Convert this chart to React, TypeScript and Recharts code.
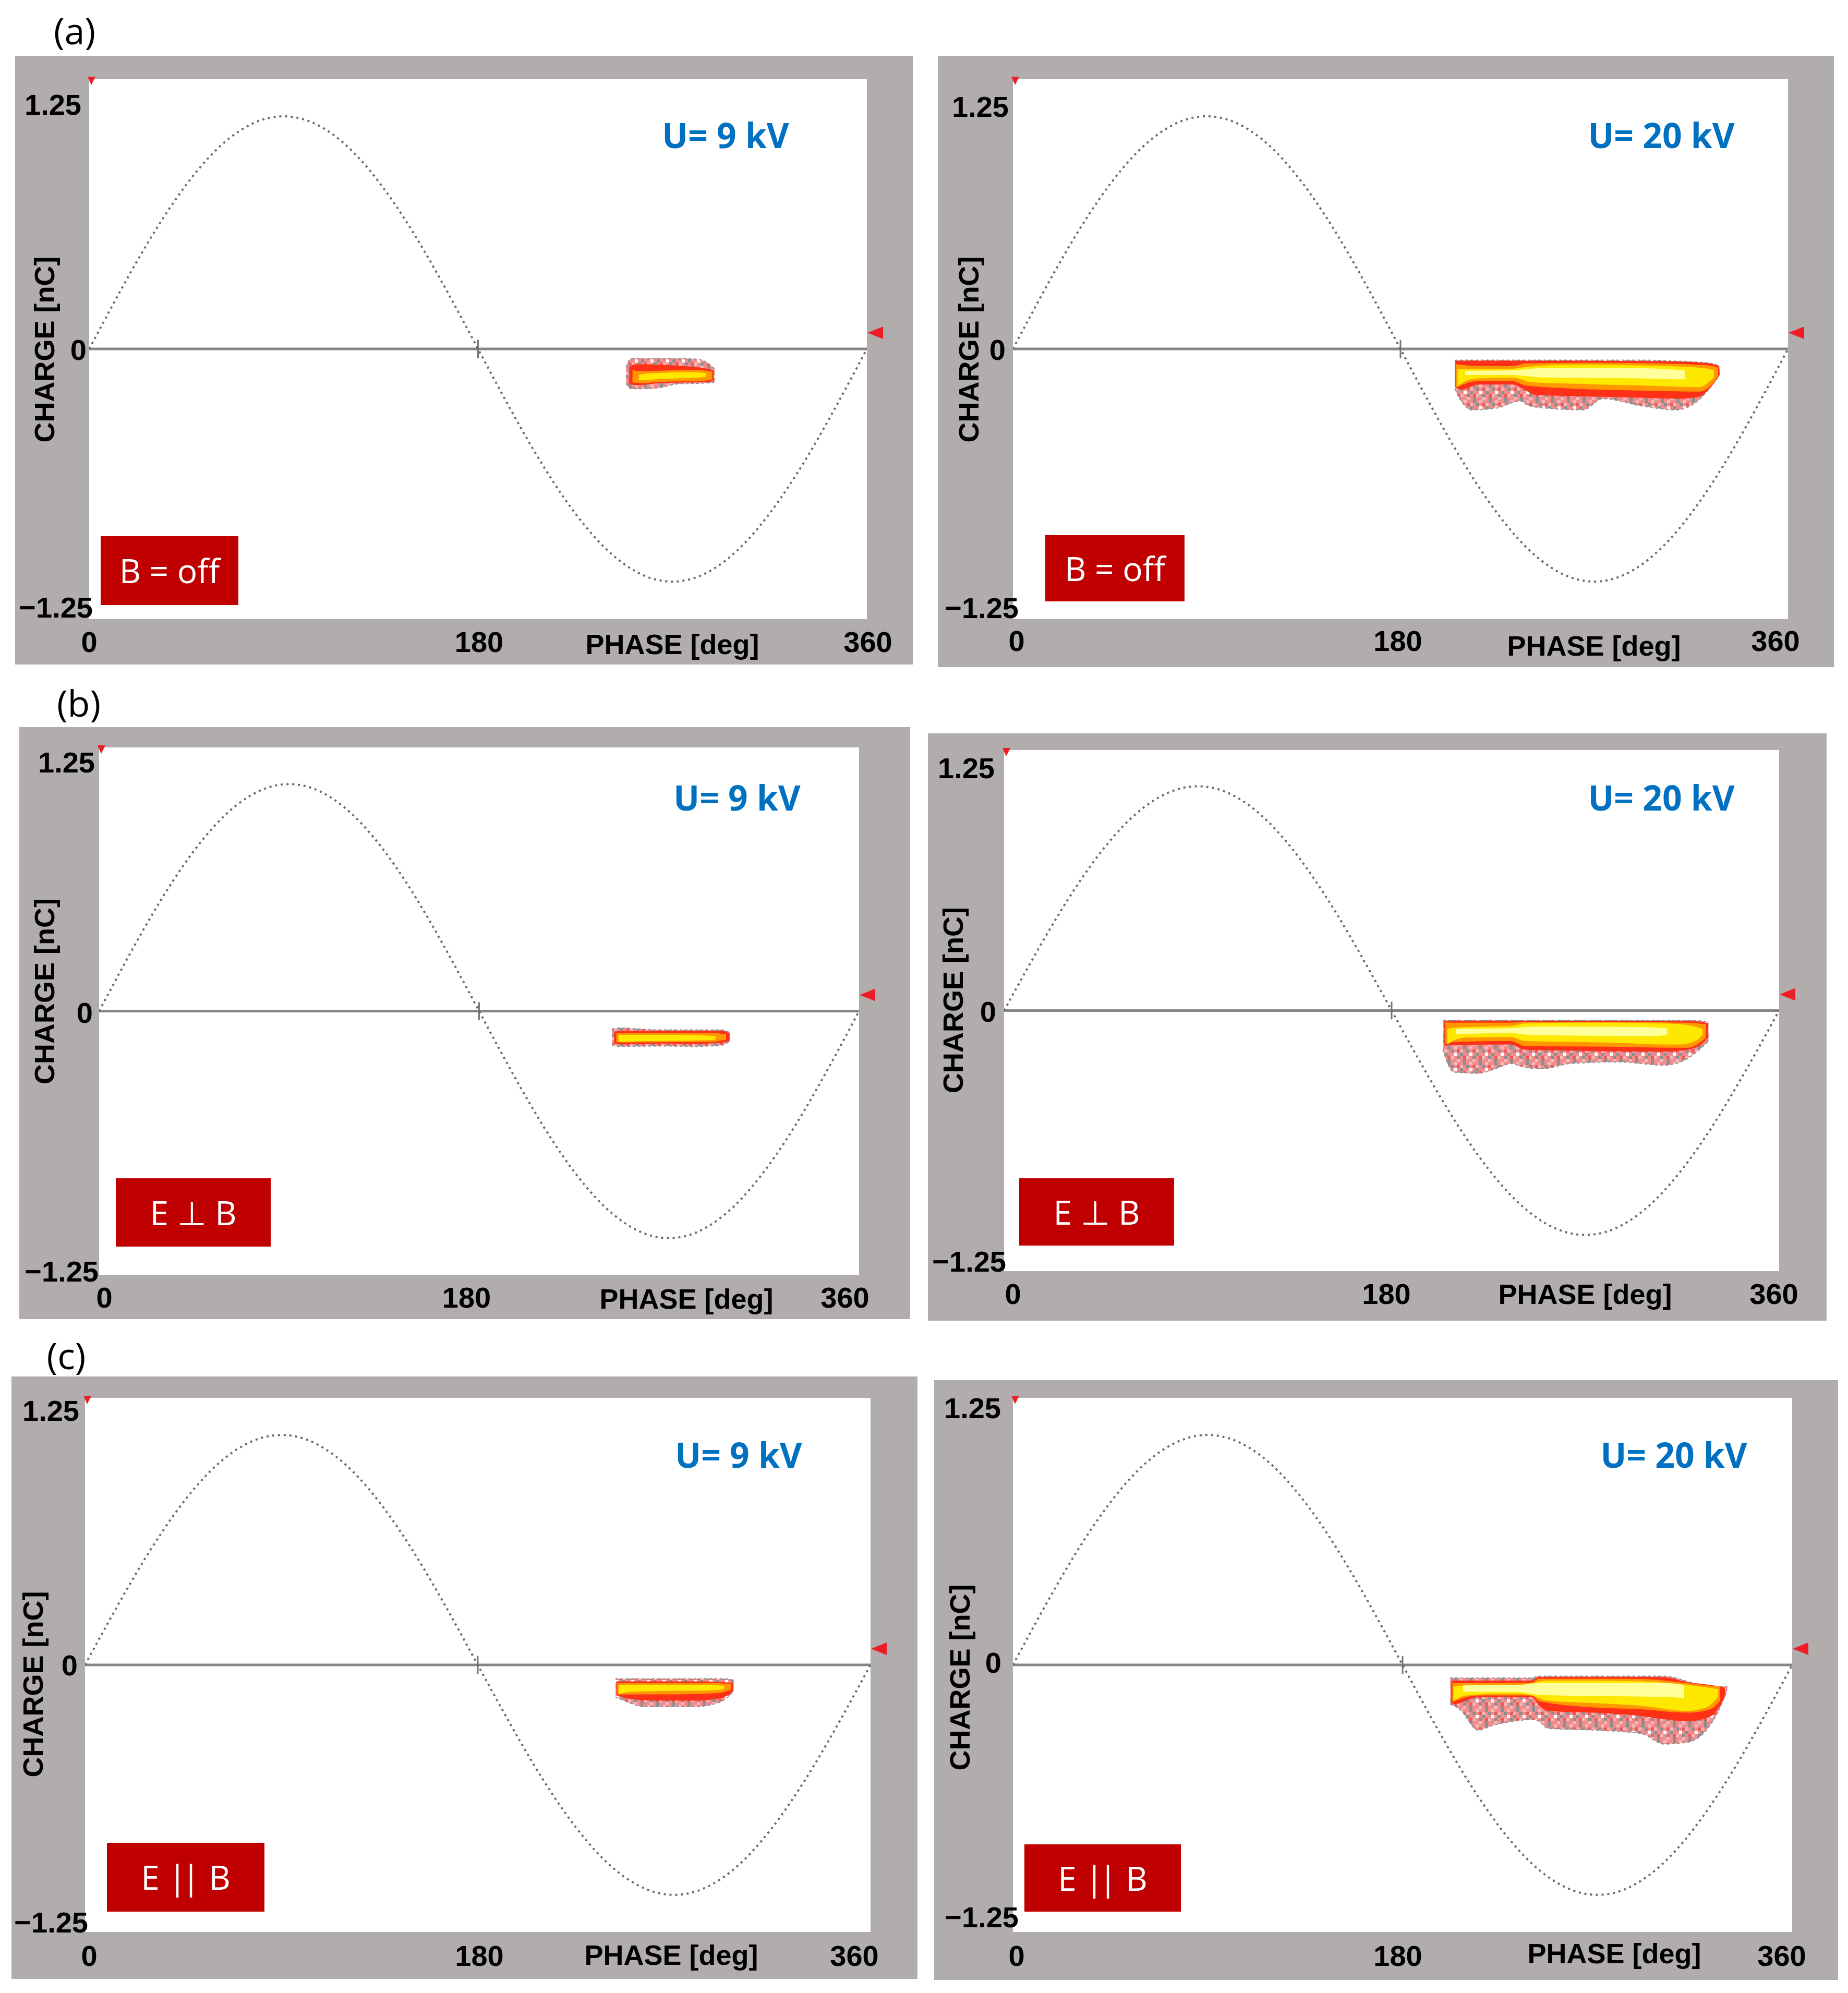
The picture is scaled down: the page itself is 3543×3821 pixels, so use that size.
import React from 'react';
import { ComposedChart, Area, Line, XAxis, YAxis, CartesianGrid, ReferenceLine } from 'recharts';

// ---------- data ----------
const PHASE_TICKS = [0, 180, 360];
const CHARGE_TICKS = [-1.25, 0, 1.25];
const CHARGE_TICK_LABELS = ['−1.25', '0', '1.25'];
const CHARGE_DOMAIN = [-1.33, 1.33];

// test voltage reference curve (nC scale), every 10 deg
const SINE_PHASE = [0, 10, 20, 30, 40, 50, 60, 70, 80, 90, 100, 110, 120, 130, 140, 150, 160, 170, 180,
  190, 200, 210, 220, 230, 240, 250, 260, 270, 280, 290, 300, 310, 320, 330, 340, 350, 360];
const SINE_CHARGE = [0, 0.199, 0.392, 0.573, 0.736, 0.877, 0.992, 1.076, 1.128, 1.145, 1.128, 1.076, 0.992,
  0.877, 0.736, 0.573, 0.392, 0.199, 0, -0.199, -0.392, -0.573, -0.736, -0.877, -0.992, -1.076, -1.128,
  -1.145, -1.128, -1.076, -0.992, -0.877, -0.736, -0.573, -0.392, -0.199, 0];

type Band = [number, number, number][]; // [phase, lowCharge, highCharge]

// (a) B = off, 9 kV
const A9_OUTER: Band = [[248.5, -0.17, -0.09], [250.9, -0.196, -0.047], [256.5, -0.196, -0.047], [264.6, -0.19, -0.047],
  [272.6, -0.172, -0.047], [280.7, -0.17, -0.05], [284.7, -0.168, -0.06], [288.7, -0.165, -0.09], [289.6, -0.16, -0.1]];
const A9_RED: Band = [[250, -0.172, -0.09], [253, -0.178, -0.075], [264.6, -0.168, -0.078], [276, -0.165, -0.085],
  [284.7, -0.163, -0.095], [289.2, -0.158, -0.105]];
const A9_ORANGE: Band = [[251.5, -0.165, -0.105], [256, -0.168, -0.11], [264.6, -0.162, -0.107], [280.7, -0.158, -0.104],
  [286.5, -0.155, -0.108], [288.5, -0.15, -0.112]];
const A9_YELLOW: Band = [[254.5, -0.155, -0.128], [258, -0.152, -0.122], [264.6, -0.148, -0.118], [280.7, -0.142, -0.114],
  [285.5, -0.138, -0.12]];
const A9_PALE: Band = [];

// (a) B = off, 20 kV
const A20_OUTER: Band = [[205.2, -0.196, -0.056], [208.4, -0.26, -0.055], [213, -0.3, -0.055], [225, -0.29, -0.055],
  [235.5, -0.256, -0.055], [239.7, -0.28, -0.055], [252, -0.295, -0.055], [264.8, -0.3, -0.055], [274, -0.245, -0.055],
  [291.7, -0.28, -0.055], [308, -0.3, -0.06], [318.7, -0.25, -0.065], [326, -0.16, -0.075], [328.4, -0.128, -0.085]];
const A20_RED: Band = [[205.5, -0.19, -0.06], [208.4, -0.2, -0.058], [216, -0.175, -0.058], [232, -0.175, -0.058],
  [237.6, -0.2, -0.058], [242, -0.225, -0.058], [259.3, -0.232, -0.058], [291.7, -0.24, -0.06], [310, -0.245, -0.062],
  [318.7, -0.235, -0.066], [324, -0.19, -0.072], [328, -0.13, -0.085]];
const A20_ORANGE: Band = [[205.8, -0.19, -0.075], [216, -0.158, -0.085], [232, -0.158, -0.085], [238, -0.18, -0.072],
  [259.3, -0.195, -0.068], [291.7, -0.205, -0.07], [318.7, -0.21, -0.078], [325, -0.17, -0.085], [327.5, -0.13, -0.092]];
const A20_YELLOW: Band = [[206.5, -0.185, -0.1], [210, -0.16, -0.098], [216, -0.145, -0.098], [232, -0.142, -0.098],
  [236, -0.15, -0.092], [240, -0.163, -0.087], [259.3, -0.171, -0.077], [291.7, -0.18, -0.081], [318.7, -0.188, -0.092],
  [323, -0.165, -0.098], [325.5, -0.14, -0.105]];
const A20_PALE: Band = [[210, -0.128, -0.108], [232, -0.128, -0.105], [245, -0.14, -0.095], [291.7, -0.145, -0.095],
  [312, -0.15, -0.105]];

// (b) E ⊥ B, 9 kV
const B9_OUTER: Band = [[243, -0.17, -0.09], [246, -0.178, -0.085], [266, -0.176, -0.095], [282.4, -0.178, -0.095],
  [294.8, -0.172, -0.095], [299, -0.15, -0.11]];
const B9_RED: Band = [[244, -0.165, -0.105], [247, -0.168, -0.1], [266, -0.164, -0.1], [282.4, -0.165, -0.1],
  [295, -0.16, -0.1], [298.5, -0.148, -0.112]];
const B9_ORANGE: Band = [[245, -0.158, -0.112], [266, -0.157, -0.11], [290, -0.155, -0.11], [297, -0.145, -0.118]];
const B9_YELLOW: Band = [[246, -0.155, -0.12], [266, -0.15, -0.12], [283, -0.148, -0.122], [292, -0.144, -0.126]];
const B9_PALE: Band = [];

// (b) E ⊥ B, 20 kV
const B20_OUTER: Band = [[203.9, -0.2, -0.049], [206, -0.27, -0.049], [209.3, -0.315, -0.049], [220.1, -0.32, -0.049],
  [230, -0.29, -0.049], [235.3, -0.27, -0.049], [241.8, -0.29, -0.049], [250, -0.297, -0.049], [263.4, -0.27, -0.049],
  [285.1, -0.262, -0.049], [306.6, -0.279, -0.05], [317.5, -0.244, -0.05], [322.9, -0.2, -0.052], [327.2, -0.155, -0.06]];
const B20_RED: Band = [[204.5, -0.18, -0.052], [209.3, -0.175, -0.052], [235.3, -0.173, -0.052], [241.8, -0.2, -0.052],
  [263.4, -0.205, -0.052], [306.6, -0.21, -0.052], [317.5, -0.2, -0.054], [322.9, -0.18, -0.056], [327, -0.14, -0.065]];
const B20_ORANGE: Band = [[205, -0.17, -0.06], [209.3, -0.16, -0.062], [235.3, -0.155, -0.062], [241.8, -0.18, -0.058],
  [285.1, -0.185, -0.058], [317.5, -0.19, -0.062], [326, -0.14, -0.07]];
const B20_YELLOW: Band = [[205.9, -0.173, -0.093], [209.3, -0.15, -0.088], [214.9, -0.137, -0.084], [235.3, -0.135, -0.08],
  [241.8, -0.155, -0.066], [263.4, -0.16, -0.062], [285.1, -0.165, -0.062], [306.6, -0.173, -0.066], [314, -0.173, -0.07],
  [322, -0.15, -0.085], [324.5, -0.12, -0.095]];
const B20_PALE: Band = [[210, -0.12, -0.093], [235, -0.115, -0.09], [245, -0.125, -0.082], [300, -0.13, -0.085],
  [308, -0.125, -0.09]];

// (c) E || B, 9 kV
const C9_OUTER: Band = [[243.1, -0.16, -0.069], [247.9, -0.182, -0.069], [256, -0.208, -0.069], [279.8, -0.208, -0.069],
  [291.7, -0.182, -0.069], [297.3, -0.13, -0.075]];
const C9_RED: Band = [[243.5, -0.15, -0.082], [250, -0.17, -0.082], [263.8, -0.178, -0.082], [279.8, -0.178, -0.082],
  [291.7, -0.165, -0.085], [297, -0.13, -0.09]];
const C9_ORANGE: Band = [[244, -0.147, -0.091], [263.8, -0.147, -0.091], [290, -0.14, -0.091], [296, -0.125, -0.095]];
const C9_YELLOW: Band = [[244.5, -0.147, -0.1], [250, -0.134, -0.1], [263.8, -0.13, -0.1], [285, -0.128, -0.1],
  [293, -0.121, -0.104]];
const C9_PALE: Band = [];

// (c) E || B, 20 kV
const C20_OUTER: Band = [[202, -0.195, -0.065], [206.4, -0.221, -0.065], [214.9, -0.325, -0.065], [222, -0.3, -0.065],
  [231.1, -0.281, -0.065], [239.7, -0.272, -0.065], [242.9, -0.28, -0.056], [247.1, -0.316, -0.056], [268.6, -0.325, -0.056],
  [290.2, -0.342, -0.056], [300.9, -0.394, -0.056], [311.7, -0.385, -0.082], [320.3, -0.325, -0.108], [326.3, -0.221, -0.108],
  [330, -0.125, -0.108]];
const C20_RED: Band = [[202.5, -0.19, -0.078], [204.2, -0.195, -0.078], [214.9, -0.16, -0.078], [239.7, -0.16, -0.078],
  [242.9, -0.2, -0.06], [247.1, -0.229, -0.06], [268.6, -0.238, -0.06], [290.2, -0.255, -0.06], [300.9, -0.27, -0.062],
  [311.7, -0.281, -0.086], [322.4, -0.255, -0.1], [328.9, -0.16, -0.112]];
const C20_ORANGE: Band = [[203, -0.185, -0.091], [214.9, -0.152, -0.091], [239.7, -0.152, -0.088], [243, -0.18, -0.069],
  [268.6, -0.212, -0.069], [290.2, -0.221, -0.07], [311.7, -0.238, -0.091], [322.4, -0.22, -0.104], [326.7, -0.178, -0.108]];
const C20_YELLOW: Band = [[203.5, -0.178, -0.108], [209.6, -0.152, -0.104], [231.1, -0.143, -0.104], [239.7, -0.152, -0.091],
  [247.1, -0.178, -0.078], [268.6, -0.19, -0.078], [290.2, -0.203, -0.082], [311.7, -0.229, -0.1], [320.3, -0.212, -0.112],
  [325.7, -0.16, -0.121]];
const C20_PALE: Band = [[208, -0.134, -0.1], [231.1, -0.134, -0.1], [245, -0.15, -0.09], [300.9, -0.16, -0.09],
  [310, -0.165, -0.1]];

// ---------- styles / layout ----------
const FRAME_GRAY = '#b1adac';
const LAYER_COLORS = { red: '#ff3018', orange: '#ff9800', yellow: '#ffe800', pale: '#ffff9c' };
const MOTTLE_CELLS: [string, number, number][] = [
  ['#8e8e8e', 6, 0], ['#f6b8b8', 18, 0], ['#f6b8b8', 0, 6], ['#8e8e8e', 12, 6], ['#ee5a5a', 24, 6],
  ['#8e8e8e', 0, 12], ['#ffffff', 18, 12], ['#ee5a5a', 6, 18], ['#f6b8b8', 12, 18], ['#8e8e8e', 24, 18],
  ['#8e8e8e', 6, 24], ['#f6b8b8', 24, 24],
];
const TICK_FONT = "'Liberation Sans', Arial, sans-serif";
const LABEL_FONT = "'Open Sans', 'Noto Sans', sans-serif";

type PanelCfg = {
  id: string;
  frame: number[]; plot: number[];
  layers: { outer: Band; red: Band; orange: Band; yellow: Band; pale: Band };
  yTickDx: number[]; yTickDy: number[];
  xTickDx: number[]; xTickDy: number;
  phaseDx: number; phaseDy: number;
  chargeDx: number; chargeDy: number;
  volt: string; voltXY: number[];
  field: string; box: number[];
};

const PANELS: PanelCfg[] = [
  { id: 'aL', frame: [29, 107, 1750, 1274], plot: [171, 151, 1662, 1187],
    layers: { outer: A9_OUTER, red: A9_RED, orange: A9_ORANGE, yellow: A9_YELLOW, pale: A9_PALE },
    yTickDx: [7, -5, -15], yTickDy: [9, 1, 18], xTickDx: [0, 2, 2], xTickDy: 43,
    phaseDx: 1118, phaseDy: 48, chargeDx: -86, chargeDy: 1,
    volt: 'U= 9 kV', voltXY: [1391, 258], field: 'B = off', box: [193, 1028, 264, 132] },
  { id: 'aR', frame: [1798, 107, 3516, 1279], plot: [1942, 151, 3428, 1187],
    layers: { outer: A20_OUTER, red: A20_RED, orange: A20_ORANGE, yellow: A20_YELLOW, pale: A20_PALE },
    yTickDx: [11, -14, -8], yTickDy: [10, 1, 22], xTickDx: [7, -5, -24], xTickDy: 41,
    phaseDx: 1114, phaseDy: 51, chargeDx: -85, chargeDy: 1,
    volt: 'U= 20 kV', voltXY: [3185, 258], field: 'B = off', box: [2004, 1026, 267, 127] },
  { id: 'bL', frame: [37, 1394, 1745, 2529], plot: [190, 1433, 1647, 2444],
    layers: { outer: B9_OUTER, red: B9_RED, orange: B9_ORANGE, yellow: B9_YELLOW, pale: B9_PALE },
    yTickDx: [-1, -12, -8], yTickDy: [24, 3, -2], xTickDx: [10, -24, -27], xTickDy: 43,
    phaseDx: 1126, phaseDy: 46, chargeDx: -105, chargeDy: -38,
    volt: 'U= 9 kV', voltXY: [1413, 1528], field: 'E ⊥ B', box: [222, 2259, 297, 131] },
  { id: 'bR', frame: [1779, 1406, 3502, 2532], plot: [1925, 1438, 3411, 2437],
    layers: { outer: B20_OUTER, red: B20_RED, orange: B20_ORANGE, yellow: B20_YELLOW, pale: B20_PALE },
    yTickDx: [4, -15, -18], yTickDy: [12, 2, 4], xTickDx: [17, -10, -10], xTickDy: 43,
    phaseDx: 1114, phaseDy: 44, chargeDx: -98, chargeDy: -20,
    volt: 'U= 20 kV', voltXY: [3185, 1528], field: 'E ⊥ B', box: [1954, 2259, 297, 129] },
  { id: 'cL', frame: [22, 2639, 1759, 3794], plot: [163, 2680, 1669, 3704],
    layers: { outer: C9_OUTER, red: C9_RED, orange: C9_ORANGE, yellow: C9_YELLOW, pale: C9_PALE },
    yTickDx: [6, -14, -11], yTickDy: [12, 0, -6], xTickDx: [8, 3, -31], xTickDy: 45,
    phaseDx: 1124, phaseDy: 44, chargeDx: -100, chargeDy: 37,
    volt: 'U= 9 kV', voltXY: [1416, 2788], field: 'E || B', box: [205, 3533, 302, 132] },
  { id: 'cR', frame: [1791, 2646, 3524, 3796], plot: [1942, 2680, 3436, 3704],
    layers: { outer: C20_OUTER, red: C20_RED, orange: C20_ORANGE, yellow: C20_YELLOW, pale: C20_PALE },
    yTickDx: [11, -22, -23], yTickDy: [2, -5, -11], xTickDx: [7, -9, -20], xTickDy: 45,
    phaseDx: 1153, phaseDy: 41, chargeDx: -102, chargeDy: 24,
    volt: 'U= 20 kV', voltXY: [3209, 2788], field: 'E || B', box: [1964, 3536, 300, 129] },
];

const PANEL_LETTERS: [string, number, number][] = [['(a)', 143, 58], ['(b)', 151, 1347], ['(c)', 127, 2598]];

const toRange = (b: Band) => b.map(([p, lo, hi]) => ({ p, r: [lo, hi] }));
const SINE_DATA = SINE_PHASE.map((p, i) => ({ p, v: SINE_CHARGE[i] }));

function FieldText({ t }: { t: string }) {
  if (t.includes('||')) {
    const [a, b] = t.split('||');
    return (
      <span>
        {a}
        <span style={{ letterSpacing: -9 }}>|</span>|{b}
      </span>
    );
  }
  return <span>{t}</span>;
}

function Panel({ c }: { c: PanelCfg }) {
  const [fL, fT, fR, fB] = c.frame;
  const [pL, pT, pR, pB] = c.plot;
  const W = fR - fL;
  const H = fB - fT;
  const m = { top: pT - fT, left: pL - fL, right: fR - pR, bottom: fB - pB };
  const plotW = pR - pL;
  const plotH = pB - pT;
  const zeroLocal = m.top + plotH / 2;
  const bottomLocal = m.top + plotH;
  const tickStyle: React.CSSProperties = { fontFamily: TICK_FONT, fontWeight: 700, fontSize: 56, fill: '#000' };
  const titleStyle: React.CSSProperties = { fontFamily: TICK_FONT, fontWeight: 700, fontSize: 54, fill: '#000' };

  const YTick = (props: any) => {
    const i = CHARGE_TICKS.indexOf(props.payload.value);
    if (i < 0) return null;
    return (
      <text x={m.left + c.yTickDx[i]} y={props.y + c.yTickDy[i]} textAnchor="end" dominantBaseline="central" style={tickStyle}>
        {CHARGE_TICK_LABELS[i]}
      </text>
    );
  };
  const XTick = (props: any) => {
    const i = PHASE_TICKS.indexOf(props.payload.value);
    if (i < 0) return null;
    return (
      <text x={props.x + c.xTickDx[i]} y={bottomLocal + c.xTickDy} textAnchor="middle" dominantBaseline="central" style={tickStyle}>
        {String(PHASE_TICKS[i])}
      </text>
    );
  };
  const PhaseTitle = () => (
    <text x={m.left + c.phaseDx} y={bottomLocal + c.phaseDy} textAnchor="middle" dominantBaseline="central" style={titleStyle}>
      PHASE [deg]
    </text>
  );
  const cx = m.left + c.chargeDx;
  const cy = zeroLocal + c.chargeDy;
  const ChargeTitle = () => (
    <text x={cx} y={cy} transform={`rotate(-90, ${cx}, ${cy})`} textAnchor="middle" dominantBaseline="central" style={titleStyle}>
      CHARGE [nC]
    </text>
  );
  const pid = `mottle-${c.id}`;
  const L = c.layers;

  return (
    <div style={{ position: 'absolute', left: fL, top: fT, width: W, height: H, background: FRAME_GRAY }}>
      <ComposedChart width={W} height={H} margin={{ top: m.top, right: m.right, left: 0, bottom: 0 }}>
        <defs>
          <pattern id={pid} width={30} height={30} patternUnits="userSpaceOnUse">
            <rect width={30} height={30} fill="#f28b8b" />
            {MOTTLE_CELLS.map(([col, x, y], k) => (
              <rect key={k} x={x} y={y} width={6} height={6} fill={col} />
            ))}
          </pattern>
        </defs>
        <CartesianGrid horizontal={false} vertical={false} fill="#ffffff" stroke="none" />
        <XAxis type="number" dataKey="p" domain={[0, 360]} ticks={PHASE_TICKS} allowDataOverflow
          axisLine={false} tickLine={false} height={m.bottom} tick={<XTick />} interval={0} label={<PhaseTitle />} />
        <YAxis type="number" domain={CHARGE_DOMAIN} ticks={CHARGE_TICKS} allowDataOverflow
          axisLine={false} tickLine={false} width={m.left} tick={<YTick />} interval={0} label={<ChargeTitle />} />
        <Area data={toRange(L.outer)} dataKey="r" type="monotone" stroke="#8e8e8e" strokeWidth={2} strokeDasharray="5 5"
          fill={`url(#${pid})`} fillOpacity={1} isAnimationActive={false} dot={false} activeDot={false} />
        <Area data={toRange(L.red)} dataKey="r" type="monotone" stroke="none" fill={LAYER_COLORS.red} fillOpacity={1}
          isAnimationActive={false} dot={false} activeDot={false} />
        <Area data={toRange(L.orange)} dataKey="r" type="monotone" stroke="none" fill={LAYER_COLORS.orange} fillOpacity={1}
          isAnimationActive={false} dot={false} activeDot={false} />
        <Area data={toRange(L.yellow)} dataKey="r" type="monotone" stroke="none" fill={LAYER_COLORS.yellow} fillOpacity={1}
          isAnimationActive={false} dot={false} activeDot={false} />
        {L.pale.length > 0 && (
          <Area data={toRange(L.pale)} dataKey="r" type="monotone" stroke="none" fill={LAYER_COLORS.pale} fillOpacity={1}
            isAnimationActive={false} dot={false} activeDot={false} />
        )}
        <ReferenceLine y={0} stroke="#858585" strokeWidth={5} />
        <ReferenceLine segment={[{ x: 180, y: -0.045 }, { x: 180, y: 0.045 }]} stroke="#777" strokeWidth={3} />
        <Line data={SINE_DATA} dataKey="v" type="natural" stroke="#6a6a6a" strokeWidth={4} strokeDasharray="4 7"
          dot={false} activeDot={false} isAnimationActive={false} />
      </ComposedChart>
      <svg width={W} height={H} style={{ position: 'absolute', left: 0, top: 0, pointerEvents: 'none' }}>
        <polygon points={`${m.left - 3},${m.top - 4} ${m.left + 12},${m.top - 4} ${m.left + 4},${m.top + 12}`} fill="#ee1c24" />
        <polygon points={`${m.left + plotW + 1},${zeroLocal - 31} ${m.left + plotW + 31},${zeroLocal - 43} ${m.left + plotW + 31},${zeroLocal - 19}`} fill="#ee1c24" />
      </svg>
    </div>
  );
}

export default function App() {
  return (
    <div style={{ position: 'absolute', left: 0, top: 0, width: 3543, height: 3821, background: '#fff', overflow: 'hidden' }}>
      {PANEL_LETTERS.map(([t, x, y]) => (
        <div key={t} style={{ position: 'absolute', left: x, top: y, transform: 'translate(-50%, -50%)', fontFamily: LABEL_FONT,
          fontSize: 70, lineHeight: 1, color: '#000', whiteSpace: 'nowrap' }}>{t}</div>
      ))}
      {PANELS.map((c) => (
        <Panel key={c.id} c={c} />
      ))}
      {PANELS.map((c) => (
        <div key={c.id + '-v'} style={{ position: 'absolute', left: c.voltXY[0], top: c.voltXY[1], transform: 'translate(-50%, -50%)',
          fontFamily: LABEL_FONT, fontWeight: 700, fontSize: 66, lineHeight: 1, color: '#0070C0', whiteSpace: 'nowrap' }}>
          {c.volt}
        </div>
      ))}
      {PANELS.map((c) => (
        <div key={c.id + '-b'} style={{ position: 'absolute', left: c.box[0], top: c.box[1], width: c.box[2], height: c.box[3],
          background: '#c00000', display: 'flex', alignItems: 'center', justifyContent: 'center', fontFamily: LABEL_FONT,
          fontSize: 64, lineHeight: 1, color: '#fff', whiteSpace: 'pre' }}>
          <FieldText t={c.field} />
        </div>
      ))}
    </div>
  );
}
